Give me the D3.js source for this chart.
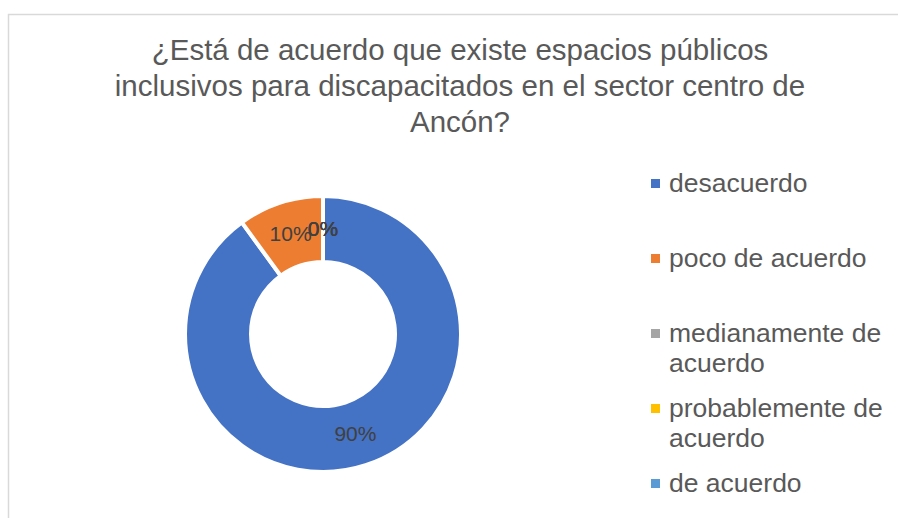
<!DOCTYPE html>
<html lang="es">
<head>
  <meta charset="UTF-8" />
  <title>Espacios públicos inclusivos</title>
  <script src="https://d3js.org/d3.v7.min.js"></script>
  <style>
    body {
      margin: 0;
      background: #fff;
    }
    svg {
      display: block;
      font-family: "Liberation Sans", Arial, sans-serif;
    }
    .title {
      font-size: 29.5px;
      fill: #595959;
    }
    .legend text {
      font-size: 26.5px;
      fill: #595959;
    }
    .label {
      font-size: 21px;
      fill: #404040;
    }
  </style>
</head>
<body>
  <svg id="chart" width="898" height="518"></svg>

  <script>
    const titleLines = [
      "¿Está de acuerdo que existe espacios públicos",
      "inclusivos para discapacitados en el sector centro de",
      "Ancón?"
    ];
    const categories = ["desacuerdo", "poco de acuerdo", "medianamente de acuerdo", "probablemente de acuerdo", "de acuerdo"];
    const percents = [90, 10, 0, 0, 0];
    const legendLines = [
      ["desacuerdo"],
      ["poco de acuerdo"],
      ["medianamente de", "acuerdo"],
      ["probablemente de", "acuerdo"],
      ["de acuerdo"]
    ];
    const colors = ["#4472C4", "#ED7D31", "#A5A5A5", "#FFC000", "#5B9BD5"];

    const svg = d3.select("#chart");

    // chart area border (runs off the right and bottom edges)
    svg.append("rect")
      .attr("x", 8.5)
      .attr("y", 14.5)
      .attr("width", 1000)
      .attr("height", 1000)
      .attr("fill", "#fff")
      .attr("stroke", "#D9D9D9")
      .attr("stroke-width", 1.5);

    svg.append("g")
      .selectAll("text")
      .data(titleLines)
      .join("text")
      .attr("class", "title")
      .attr("x", 460)
      .attr("y", (d, i) => 60 + i * 36)
      .attr("text-anchor", "middle")
      .text(d => d);

    const color = d3.scaleOrdinal().domain(categories).range(colors);

    const pie = d3.pie()
      .sort(null)
      .value(d => d.value);

    const data = categories.map((c, i) => ({ name: c, value: percents[i] }));
    const arcs = pie(data);

    const arc = d3.arc()
      .innerRadius(72)
      .outerRadius(138);

    const g = svg.append("g")
      .attr("transform", "translate(323, 334)");

    g.selectAll("path")
      .data(arcs)
      .join("path")
      .attr("d", arc)
      .attr("fill", d => color(d.data.name))
      .attr("stroke", "#fff")
      .attr("stroke-width", 4);

    g.selectAll(".label")
      .data(arcs)
      .join("text")
      .attr("class", "label")
      .attr("transform", d => `translate(${arc.centroid(d)})`)
      .attr("text-anchor", "middle")
      .attr("dy", "0.35em")
      .text(d => d.data.value + "%");

    // legend
    const legend = svg.append("g")
      .attr("class", "legend")
      .selectAll("g")
      .data(categories)
      .join("g")
      .attr("transform", (d, i) => `translate(651, ${192 + i * 75})`);

    legend.append("rect")
      .attr("x", 0)
      .attr("y", -13)
      .attr("width", 9)
      .attr("height", 9)
      .attr("fill", d => color(d));

    legend.append("text")
      .attr("x", 18)
      .selectAll("tspan")
      .data((d, i) => legendLines[i])
      .join("tspan")
      .attr("x", 18)
      .attr("dy", (d, i) => i === 0 ? 0 : 30)
      .text(d => d);
  </script>
</body>
</html>
